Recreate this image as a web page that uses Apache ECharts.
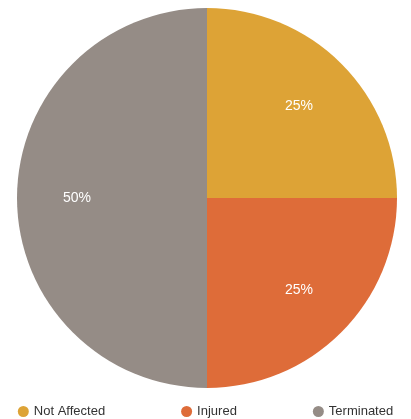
<!DOCTYPE html>
<html>
<head>
<meta charset="utf-8">
<script src="https://cdn.jsdelivr.net/npm/echarts@6/dist/echarts.min.js"></script>
<style>
  html, body { margin: 0; padding: 0; background: #fff; }
  #chart { width: 411px; height: 419px; }
</style>
</head>
<body>
<div id="chart"></div>
<script>
  const categories = ['Not Affected', 'Injured', 'Terminated'];
  const values = [25, 25, 50];
  const colors = ['#DDA336', '#DE6C39', '#958C86'];

  const pieData = categories.map((name, i) => ({ value: values[i], name: name }));

  const chart = echarts.init(document.getElementById('chart'));
  chart.setOption({
    animation: false,
    color: colors,
    legend: {
      bottom: 1,
      left: 'center',
      padding: 0,
      icon: 'circle',
      itemWidth: 11,
      itemHeight: 11,
      itemGap: 76,
      textStyle: { color: '#333', fontSize: 13, fontFamily: 'Liberation Sans, Arial, sans-serif' },
      data: categories
    },
    series: [
      {
        type: 'pie',
        center: [207, 198],
        radius: [0, 190],
        startAngle: 90,
        clockwise: true,
        label: { show: false },
        labelLine: { show: false },
        data: pieData
      },
      // transparent helper ring so the percent labels sit about 2/3 of the way out
      {
        type: 'pie',
        center: [207, 198],
        radius: [0, 254],
        startAngle: 90,
        silent: true,
        itemStyle: { color: 'rgba(0,0,0,0)' },
        label: {
          show: true,
          position: 'inner',
          formatter: '{d}%',
          color: '#fff',
          fontSize: 14,
          fontFamily: 'Liberation Sans, Arial, sans-serif'
        },
        labelLine: { show: false },
        data: pieData
      }
    ]
  });
</script>
</body>
</html>
